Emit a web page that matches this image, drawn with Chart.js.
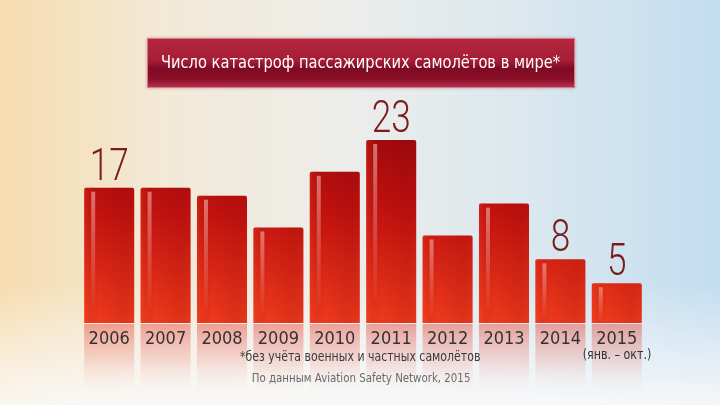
<!DOCTYPE html>
<html>
<head>
<meta charset="utf-8">
<script src="https://cdn.jsdelivr.net/npm/chart.js@4.4.1/dist/chart.umd.min.js"></script>
<style>
  html, body { margin: 0; padding: 0; }
  body {
    width: 720px; height: 405px; overflow: hidden; position: relative;
    background:
      linear-gradient(to bottom, rgba(255,255,255,0) 70%, rgba(250,250,250,0.9) 100%),
      linear-gradient(to right, #f7dcae 0%, #f2e9d6 22%, #ecedea 48%, #dce8ee 72%, #c2ddf0 100%);
    font-family: "DejaVu Sans Condensed", sans-serif;
  }
  #wrap { position: absolute; left: 0; top: 0; width: 720px; height: 405px; }
  .title {
    position: absolute; left: 147px; top: 38px; width: 428px; height: 50px;
    box-sizing: border-box; border: 1px solid #d77a88;
    background: linear-gradient(to bottom, #b3283f 0%, #a61d36 45%, #7d0a24 62%, #8e1029 85%, #b53150 100%);
    box-shadow: 0 0 3px rgba(160,40,60,0.4);
  }
  .title-text {
    position: absolute; left: 61px; top: 38px; width: 600px; height: 50px;
    color: #fff; font-size: 18px; line-height: 48px; text-align: center;
    white-space: nowrap;
  }
  .title-text span { display: inline-block; transform: scaleX(0.905); }
  .note { position: absolute; text-align: center; white-space: nowrap; }
  .note span { display: inline-block; }
  #n1 { left: 160px; width: 400px; top: 348px; font-size: 14px; color: #3c3c3c; }
  #n1 span { transform: scaleX(0.87); }
  #n2 { left: 161px; width: 400px; top: 370px; font-size: 12.5px; color: #6a6a6a; }
  #n2 span { transform: scaleX(0.91); }
  #n3 { left: 567px; width: 100px; top: 346px; font-size: 14px; color: #333; }
  #n3 span { transform: scaleX(0.88); }
</style>
</head>
<body>
<div id="wrap"><canvas id="graph" width="720" height="405"></canvas></div>
<div class="title"></div>
<div class="title-text"><span>Число катастроф пассажирских самолётов в мире*</span></div>
<div class="note" id="n1"><span>*без учёта военных и частных самолётов</span></div>
<div class="note" id="n2"><span>По данным Aviation Safety Network, 2015</span></div>
<div class="note" id="n3"><span>(янв. – окт.)</span></div>
<script>
const years = ["2006", "2007", "2008", "2009", "2010", "2011", "2012", "2013", "2014", "2015"];
const crashes = [17, 17, 16, 12, 19, 23, 11, 15, 8, 5];
const shownValues = ["17", "", "", "", "", "23", "", "", "8", "5"];

// reflections under the bars, drawn before the axis labels
const reflection = {
    id: "reflection",
    beforeDraw(chart) {
        const ctx = chart.ctx;
        const meta = chart.getDatasetMeta(0);
        meta.data.forEach(bar => {
            const left = bar.x - bar.width / 2;
            const g = ctx.createLinearGradient(0, bar.base, 0, bar.base + 75);
            g.addColorStop(0, "rgba(230,60,45,0.45)");
            g.addColorStop(0.5, "rgba(235,90,80,0.18)");
            g.addColorStop(1, "rgba(255,255,255,0)");
            ctx.fillStyle = g;
            ctx.fillRect(left, bar.base + 1, bar.width, 75);
        });
    }
};

// shine on the bars and the value labels
const shine = {
    id: "shine",
    afterDatasetsDraw(chart) {
        const ctx = chart.ctx;
        const meta = chart.getDatasetMeta(0);
        meta.data.forEach((bar, i) => {
            const left = bar.x - bar.width / 2;
            const h = bar.base - bar.y;
            // darker right side
            const g = ctx.createLinearGradient(left, 0, left + bar.width, 0);
            g.addColorStop(0, "rgba(255,80,40,0.25)");
            g.addColorStop(0.3, "rgba(120,0,0,0)");
            g.addColorStop(0.8, "rgba(110,0,0,0.12)");
            g.addColorStop(1, "rgba(90,0,0,0.05)");
            ctx.fillStyle = g;
            ctx.fillRect(left, bar.y, bar.width, h);
            // highlight stripe
            const s = ctx.createLinearGradient(0, bar.y, 0, bar.y + h * 0.85);
            s.addColorStop(0, "rgba(255,200,190,0.55)");
            s.addColorStop(1, "rgba(255,200,190,0.05)");
            ctx.fillStyle = s;
            ctx.fillRect(left + 7, bar.y + 4, 4, h * 0.85);

            if (shownValues[i]) {
                ctx.save();
                ctx.translate(bar.x, bar.y - 8);
                ctx.scale(0.8, 1);
                ctx.font = "300 44px Roboto";
                ctx.fillStyle = "#7a1c1c";
                ctx.textAlign = "center";
                ctx.textBaseline = "alphabetic";
                ctx.fillText(shownValues[i], 0, 0);
                ctx.restore();
            }
        });
    }
};

new Chart("graph", {
    type: "bar",
    data: {
        labels: years,
        datasets: [{
            data: crashes,
            backgroundColor: function(context) {
                const area = context.chart.chartArea;
                if (!area) return "#d81e12";
                const g = context.chart.ctx.createLinearGradient(0, area.top, 0, area.bottom);
                g.addColorStop(0, "#9a070d");
                g.addColorStop(0.45, "#c2120f");
                g.addColorStop(1, "#ee3a1c");
                return g;
            },
            borderWidth: 0,
            borderRadius: 2,
            borderSkipped: "bottom",
            barPercentage: 0.887,
            categoryPercentage: 1
        }]
    },
    options: {
        responsive: false,
        animation: false,
        layout: { padding: { left: 81, right: 75, top: 124, bottom: 0 } },
        scales: {
            x: {
                grid: { display: false, drawTicks: false },
                border: { display: false },
                ticks: {
                    color: "#333333",
                    padding: 6,
                    font: { family: "'DejaVu Sans Condensed', sans-serif", size: 18 }
                },
                afterFit(scale) { scale.height = 82; }
            },
            y: {
                display: false,
                min: 0,
                max: 25
            }
        },
        plugins: {
            legend: { display: false },
            tooltip: { enabled: false }
        }
    },
    plugins: [reflection, shine]
});
</script>
</body>
</html>
